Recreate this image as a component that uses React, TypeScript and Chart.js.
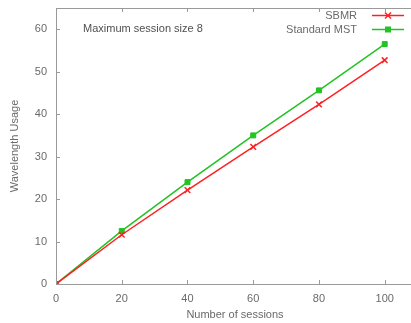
import React, { useEffect, useRef } from "react";
import { Chart, registerables } from "chart.js";

Chart.register(...registerables);

const sessions = [0, 20, 40, 60, 80, 100];
const sbmr = [0, 11.6, 22.1, 32.3, 42.3, 52.7];
const standardMst = [0, 12.5, 24.0, 35.0, 45.6, 56.5];
const xTicks = [0, 20, 40, 60, 80, 100];
const yTicks = [0, 10, 20, 30, 40, 50, 60];
const seriesNames = ["SBMR", "Standard MST"];
const noteText = "Maximum session size 8";
const xTitle = "Number of sessions";
const yTitle = "Wavelength Usage";

const RED = "#ff2020";
const GREEN = "#22c322";
const AXIS = "#9a9a9a";
const TEXT = "#6a6a6a";
const FONT = "Liberation Sans";

const decorPlugin = {
  id: "decor",
  afterDraw(chart: any) {
    const ctx = chart.ctx as CanvasRenderingContext2D;
    const { left, right, top, bottom } = chart.chartArea;
    const xs = chart.scales.x;
    const ys = chart.scales.y;
    ctx.save();
    ctx.strokeStyle = AXIS;
    ctx.lineWidth = 1;
    ctx.beginPath();
    ctx.moveTo(left + 0.5, top);
    ctx.lineTo(left + 0.5, bottom);
    ctx.moveTo(left, bottom + 0.5);
    ctx.lineTo(right, bottom + 0.5);
    ctx.moveTo(left, top + 0.5);
    ctx.lineTo(right, top + 0.5);
    const tl = 4;
    xTicks.forEach((v) => {
      const px = Math.round(xs.getPixelForValue(v)) + 0.5;
      ctx.moveTo(px, bottom);
      ctx.lineTo(px, bottom - tl);
      ctx.moveTo(px, top);
      ctx.lineTo(px, top + tl);
    });
    yTicks.forEach((v) => {
      const py = Math.round(ys.getPixelForValue(v)) + 0.5;
      ctx.moveTo(left, py);
      ctx.lineTo(left + tl, py);
    });
    ctx.stroke();

    ctx.fillStyle = TEXT;
    ctx.font = `11px "${FONT}"`;
    ctx.textAlign = "center";
    ctx.textBaseline = "middle";
    ctx.fillText(xTitle, 235, 315);
    ctx.save();
    ctx.translate(15, (top + bottom) / 2);
    ctx.rotate(-Math.PI / 2);
    ctx.fillText(yTitle, 0, 0);
    ctx.restore();

    ctx.fillStyle = "#505050";
    ctx.textAlign = "left";
    ctx.fillText(noteText, 83, 28.5);

    const colors = [RED, GREEN];
    const styles = ["crossRot", "rect"];
    seriesNames.forEach((name, i) => {
      const y = 15.5 + i * 14;
      ctx.fillStyle = TEXT;
      ctx.textAlign = "right";
      ctx.fillText(name, 357, y);
      ctx.strokeStyle = colors[i];
      ctx.lineWidth = 1.5;
      ctx.beginPath();
      ctx.moveTo(372, y);
      ctx.lineTo(404, y);
      ctx.stroke();
      ctx.fillStyle = colors[i];
      if (styles[i] === "rect") {
        ctx.fillRect(385, y - 3, 6, 6);
      } else {
        ctx.beginPath();
        ctx.moveTo(385, y - 3);
        ctx.lineTo(391, y + 3);
        ctx.moveTo(391, y - 3);
        ctx.lineTo(385, y + 3);
        ctx.stroke();
      }
    });
    ctx.restore();
  },
};

export default function App() {
  const ref = useRef<HTMLCanvasElement | null>(null);
  useEffect(() => {
    document.body.style.margin = "0";
    const canvas = ref.current!;
    const chart = new Chart(canvas, {
      type: "line",
      data: {
        datasets: [
          {
            label: seriesNames[0],
            data: sessions.map((x, i) => ({ x, y: sbmr[i] })),
            borderColor: RED,
            backgroundColor: RED,
            borderWidth: 1.5,
            pointStyle: "crossRot",
            pointRadius: 4,
            pointBorderWidth: 1.5,
            tension: 0,
          },
          {
            label: seriesNames[1],
            data: sessions.map((x, i) => ({ x, y: standardMst[i] })),
            borderColor: GREEN,
            backgroundColor: GREEN,
            borderWidth: 1.5,
            pointStyle: "rect",
            pointRadius: 3.5,
            pointBorderWidth: 1,
            tension: 0,
          },
        ],
      },
      options: {
        animation: false,
        responsive: false,
        layout: { autoPadding: false, padding: { top: 8, right: 0, left: 0, bottom: 0 } },
        plugins: {
          legend: { display: false },
          tooltip: { enabled: false },
        },
        scales: {
          x: {
            type: "linear",
            min: 0,
            max: 108,
            grid: { display: false, drawTicks: false },
            border: { display: false },
            afterBuildTicks: (s: any) => {
              s.ticks = xTicks.map((v) => ({ value: v }));
            },
            afterFit: (s: any) => {
              s.height = 39;
              s.paddingLeft = 0;
              s.paddingRight = 0;
            },
            ticks: {
              color: TEXT,
              font: { family: FONT, size: 11 },
              padding: 8,
              maxRotation: 0,
            },
          },
          y: {
            type: "linear",
            min: 0,
            max: 65,
            grid: { display: false, drawTicks: false },
            border: { display: false },
            afterBuildTicks: (s: any) => {
              s.ticks = yTicks.map((v) => ({ value: v }));
            },
            afterFit: (s: any) => {
              s.width = 56;
              s.paddingTop = 0;
              s.paddingBottom = 0;
            },
            ticks: {
              color: TEXT,
              font: { family: FONT, size: 11 },
              padding: 9,
            },
          },
        },
      },
      plugins: [decorPlugin],
    } as any);
    return () => chart.destroy();
  }, []);
  return (
    <div style={{ position: "fixed", left: 0, top: 0, width: 411, height: 323, background: "#fff" }}>
      <canvas ref={ref} width={411} height={323} style={{ display: "block" }} />
    </div>
  );
}
